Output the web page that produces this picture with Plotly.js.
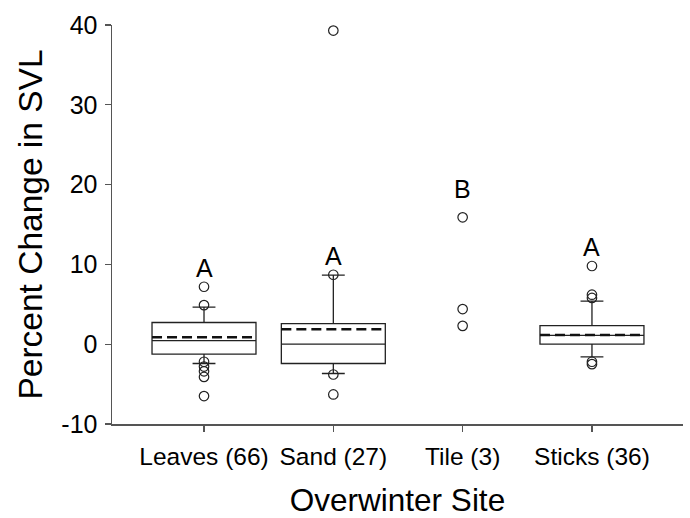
<!DOCTYPE html>
<html>
<head>
<meta charset="utf-8">
<script src="https://cdn.plot.ly/plotly-3.0.1.min.js"></script>
<style>html,body{margin:0;padding:0;background:#fff;}#chart{width:690px;height:518px;}</style>
</head>
<body>
<div id="chart"></div>
<script>
// ---- data ----
const categories = ["Leaves (66)", "Sand (27)", "Tile (3)", "Sticks (36)"];
const q1Vals     = [-1.25, -2.42, null, 0.0];
const medianVals = [0.46, 0.0, null, 1.1];
const q3Vals     = [2.72, 2.59, null, 2.34];
const lowerVals  = [-2.42, -3.67, null, -1.59];
const upperVals  = [4.64, 8.65, null, 5.39];
const meanVals   = [0.88, 1.88, null, 1.15];
const outliers = [
  [7.2, 4.9, -2.2, -2.8, -3.4, -4.1, -6.5],
  [39.3, 8.7, -3.8, -6.3],
  [15.9, 4.4, 2.3],
  [9.8, 6.2, 5.8, -2.2, -2.5]
];
const letters = ["A", "A", "B", "A"];
const letterY = [9.5, 11.1, 19.4, 12.2];
const yTicks = [-10, 0, 10, 20, 30, 40];

// ---- drawing ----
const FONT = "Liberation Sans, Arial, Helvetica, sans-serif";
const pos = categories.map((c, i) => i);
const boxW = 0.804;
const boxIdx = pos.filter(i => q1Vals[i] !== null);

const traces = [];
traces.push({
  type: "box",
  x: boxIdx.map(i => pos[i]),
  q1: boxIdx.map(i => q1Vals[i]),
  median: boxIdx.map(i => medianVals[i]),
  q3: boxIdx.map(i => q3Vals[i]),
  lowerfence: boxIdx.map(i => lowerVals[i]),
  upperfence: boxIdx.map(i => upperVals[i]),
  boxpoints: false,
  boxmean: false,
  width: boxW,
  whiskerwidth: 0.22,
  fillcolor: "rgba(0,0,0,0)",
  line: {color: "#222", width: 1.3},
  hoverinfo: "skip",
  showlegend: false
});
boxIdx.forEach(i => {
  traces.push({
    type: "scatter", mode: "lines",
    x: [pos[i] - boxW / 2, pos[i] + boxW / 2],
    y: [meanVals[i], meanVals[i]],
    line: {color: "#111", width: 2.6, dash: "10px,5px"},
    hoverinfo: "skip", showlegend: false
  });
});
const ox = [], oy = [];
outliers.forEach((arr, i) => arr.forEach(v => { ox.push(pos[i]); oy.push(v); }));
traces.push({
  type: "scatter", mode: "markers",
  x: ox, y: oy,
  marker: {symbol: "circle-open", size: 9.5, color: "#222", line: {width: 1.2, color: "#222"}},
  hoverinfo: "skip", showlegend: false
});

const annotations = letters.map((t, i) => ({
  x: pos[i], y: letterY[i], xref: "x", yref: "y", text: t, showarrow: false,
  xanchor: "center", yanchor: "middle",
  font: {family: FONT, size: 25, color: "#000"}
}));

const layout = {
  width: 690, height: 518,
  margin: {l: 112, r: 7, t: 25, b: 94, pad: 0},
  paper_bgcolor: "#fff", plot_bgcolor: "#fff",
  showlegend: false,
  font: {family: FONT, color: "#000"},
  xaxis: {
    range: [-0.7115, 3.704],
    tickvals: pos, ticktext: categories,
    ticks: "outside", ticklen: 6, tickwidth: 1.2, tickcolor: "#555",
    ticklabelstandoff: 4,
    showline: true, linecolor: "#555", linewidth: 1.5,
    showgrid: false, zeroline: false,
    tickfont: {family: FONT, size: 24.5, color: "#000"},
    title: {text: "Overwinter Site", font: {family: FONT, size: 31.5, color: "#000"}, standoff: 24}
  },
  yaxis: {
    range: [-10, 40],
    tickvals: yTicks, ticktext: yTicks.map(v => String(v)),
    ticks: "outside", ticklen: 6, tickwidth: 1.2, tickcolor: "#555",
    ticklabelstandoff: 2,
    showline: true, linecolor: "#555", linewidth: 1.5,
    showgrid: false, zeroline: false,
    tickfont: {family: FONT, size: 25, color: "#000"},
    title: {text: "Percent Change in SVL", font: {family: FONT, size: 33.5, color: "#000"}, standoff: 8}
  },
  annotations: annotations
};

Plotly.newPlot("chart", traces, layout, {staticPlot: true, displayModeBar: false});
</script>
</body>
</html>
